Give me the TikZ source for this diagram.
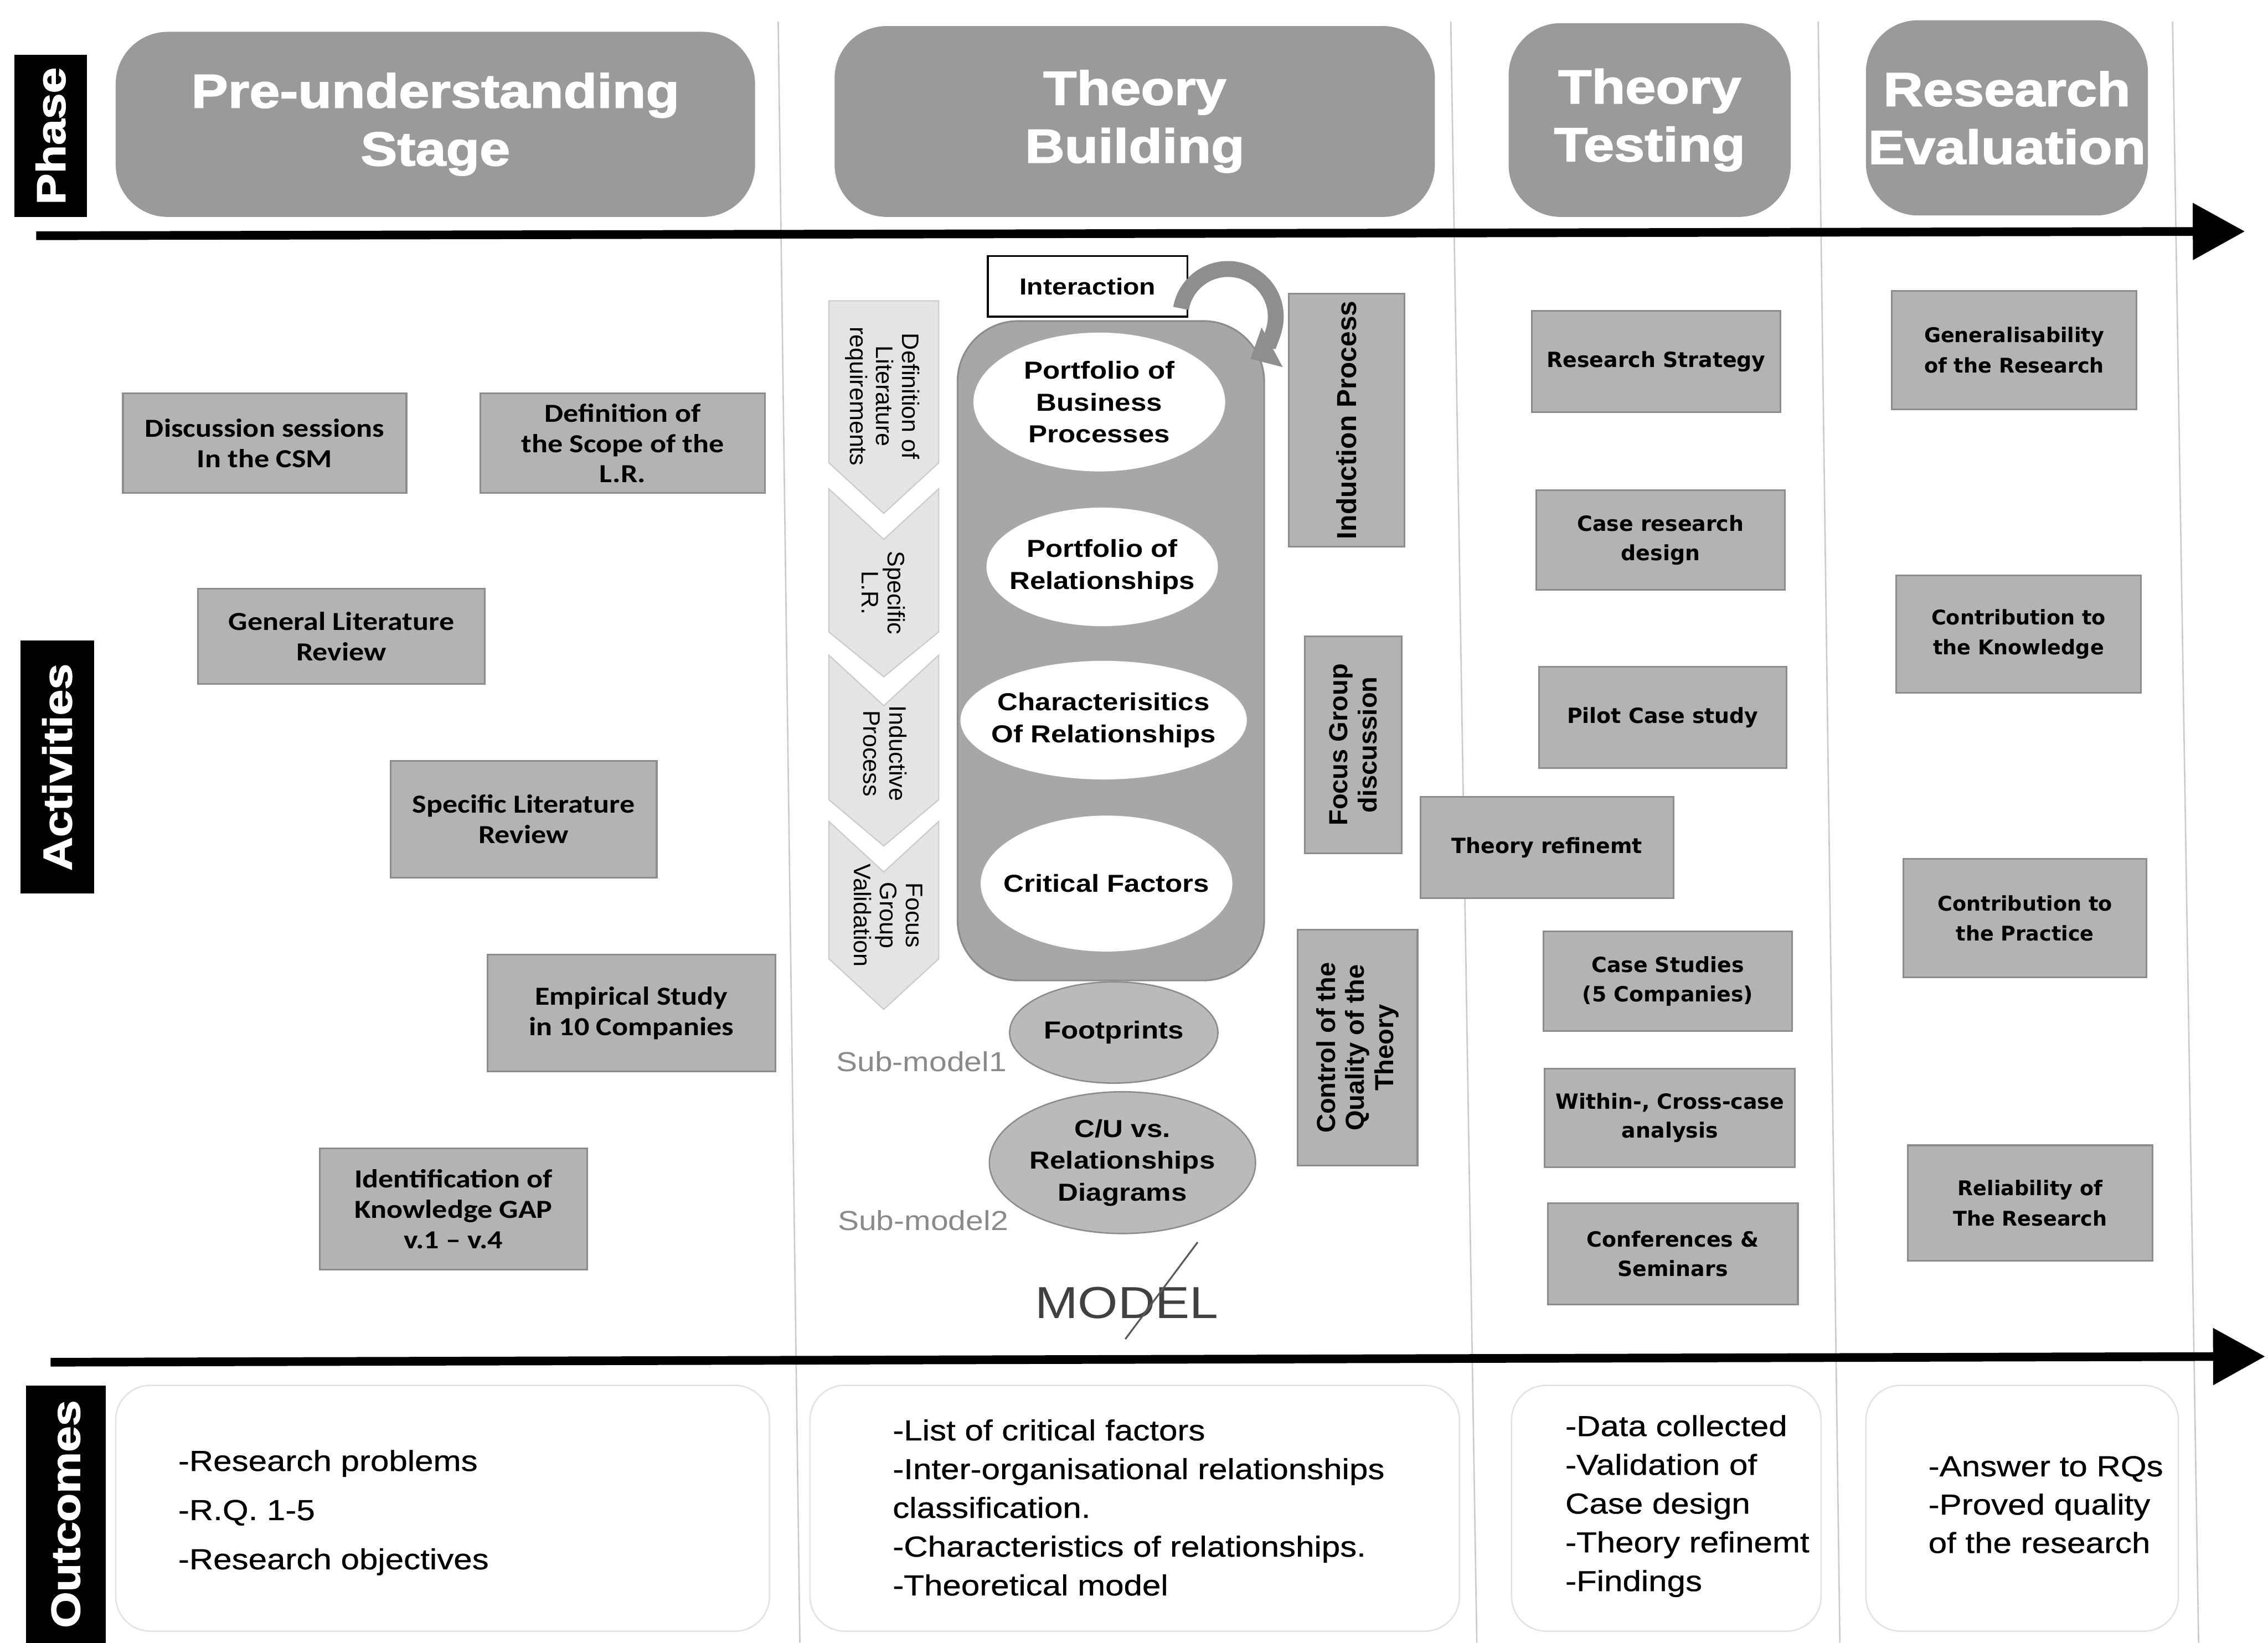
\documentclass[tikz,border=0pt]{standalone}
\usepackage{fontspec}
\setmainfont{Liberation Sans}
\newfontfamily\headfont[FakeStretch=1.15,FakeBold=2]{Liberation Sans}
\newfontfamily\widesans[FakeStretch=1.15]{Liberation Sans}
\newfontfamily\outfont[FakeStretch=1.15,FakeBold=0.6]{Liberation Sans}
\newfontfamily\calibfont[FakeStretch=1.15]{Carlito}
\newfontfamily\verdfont{DejaVu Sans}
\usetikzlibrary{shapes.geometric,arrows.meta}

\definecolor{hdgray}{HTML}{9A9A9A}
\definecolor{boxgray}{HTML}{B3B3B3}
\definecolor{boxedge}{HTML}{8C8C8C}
\definecolor{panelgray}{HTML}{A7A7A7}
\definecolor{chevfill}{HTML}{E4E4E4}
\definecolor{chevedge}{HTML}{CACACA}
\definecolor{sepgray}{HTML}{CBCBCB}
\definecolor{panelline}{HTML}{E3E3E3}
\definecolor{subgray}{HTML}{8A8A8A}
\definecolor{ovalgray}{HTML}{BABABA}
\definecolor{loopgray}{HTML}{8E8E8E}

\tikzset{
  sepline/.style={draw=sepgray, line width=1pt},
  outpanel/.style={draw=panelline, line width=1pt, rounded corners=24pt},
  timeline/.style={line width=6pt, -{Triangle[length=36pt,width=38pt]}},
  phasehead/.style={fill=hdgray, rounded corners=36pt, text=white, align=center,
    inner sep=0pt, font=\headfont\bfseries\fontsize{33}{40}\selectfont},
  sidelabel/.style={fill=black, text=white, rotate=90, inner sep=0pt,
    font=\headfont\bfseries\fontsize{28}{30}\selectfont},
  actbox/.style={fill=boxgray, draw=boxedge, line width=1.2pt, align=center,
    inner sep=0pt, font=\calibfont\bfseries\fontsize{18}{21}\selectfont},
  testbox/.style={actbox, font=\verdfont\bfseries\fontsize{14.5}{20}\selectfont},
  evalbox/.style={actbox, font=\verdfont\bfseries\fontsize{14}{21}\selectfont},
  upbox/.style={actbox, rotate=90, font=\bfseries\fontsize{18}{20}\selectfont},
  chev/.style={fill=chevfill, draw=chevedge, line width=0.8pt},
  chevtext/.style={rotate=-90, align=center, inner sep=0pt,
    font=\fontsize{16.5}{18}\selectfont},
  oval/.style={ellipse, inner sep=0pt},
  ovaltext/.style={align=center, inner sep=0pt,
    font=\widesans\bfseries\fontsize{17}{22}\selectfont},
  outtext/.style={align=left, anchor=west, inner sep=0pt},
}

\begin{document}
\begin{tikzpicture}[x=1pt,y=-1pt]
\useasboundingbox (0,0) rectangle (1568,1136);
\fill[white] (0,0) rectangle (1568,1136);

% column separators
\draw[sepline] (538,15) -- (553,1136);
\draw[sepline] (1003,15) -- (1021,1136);
\draw[sepline] (1257,15) -- (1272,1136);
\draw[sepline] (1502,15) -- (1520,1136);

% outcome panels
\draw[outpanel] (80,958) rectangle (532,1128);
\draw[outpanel] (560,958) rectangle (1009,1128);
\draw[outpanel] (1045,958) rectangle (1259,1128);
\draw[outpanel] (1290,958) rectangle (1506,1128);

% phase headers
\node[phasehead, minimum width=442, minimum height=128] (hpre) at (301,86) {Pre-understanding\\Stage};
\node[phasehead, minimum width=415, minimum height=132] (hbuild) at (784.5,84) {Theory\\Building};
\node[phasehead, minimum width=195, minimum height=134] (htest) at (1140.5,83) {Theory\\Testing};
\node[phasehead, minimum width=195, minimum height=135] (heval) at (1387.5,81.5) {Research\\Evaluation};

% side labels
\node[sidelabel, minimum width=112, minimum height=50] (lphase) at (35,94) {Phase};
\node[sidelabel, minimum width=175, minimum height=51] (lact) at (39.5,530.5) {Activities};
\node[sidelabel, minimum width=178, minimum height=55] (lout) at (45.5,1047) {Outcomes};

% time lines
\coordinate (ptl) at (25,163);
\coordinate (ptr) at (1552,160);
\draw[timeline] (ptl) -- (ptr);
\coordinate (otl) at (35,942);
\coordinate (otr) at (1566,938);
\draw[timeline] (otl) -- (otr);

% pre-understanding activities
\node[actbox, minimum width=196, minimum height=69] (disc) at (183,306.5) {Discussion sessions\\In the CSM};
\node[actbox, minimum width=197, minimum height=69] (scope) at (430.5,306.5) {Definition of\\the Scope of the\\L.R.};
\node[actbox, minimum width=198, minimum height=66] (genlit) at (236,440) {General Literature\\Review};
\node[actbox, minimum width=184, minimum height=81] (speclit) at (362,566.5) {Specific Literature\\Review};
\node[actbox, minimum width=199, minimum height=81] (empir) at (436.5,700.5) {Empirical Study\\in 10 Companies};
\node[actbox, minimum width=185, minimum height=84] (gap) at (313.5,836) {Identification of\\Knowledge GAP\\v.1 – v.4};

% chevron steps
\filldraw[chev] (573,208) -- (649,208) -- (649,320) -- (611,355) -- (573,320) -- cycle;
\filldraw[chev] (573,338) -- (611,373) -- (649,338) -- (649,437) -- (611,468) -- (573,437) -- cycle;
\filldraw[chev] (573,453) -- (611,488) -- (649,453) -- (649,553) -- (611,585) -- (573,553) -- cycle;
\filldraw[chev] (573,568) -- (611,603) -- (649,568) -- (649,663) -- (611,698) -- (573,663) -- cycle;
\node[chevtext] (cv1) at (610,274) {Definition of\\Literature\\requirements};
\node[chevtext] (cv2) at (611,410) {Specific\\L.R.};
\node[chevtext] (cv3) at (612,521) {Inductive\\Process};
\node[chevtext] (cv4) at (614,633) {Focus\\Group\\Validation};

% core model panel
\node[fill=panelgray, draw=boxedge, line width=1.2pt, rounded corners=42pt,
  minimum width=212, minimum height=456, inner sep=0pt] (core) at (768,450) {};
\node[draw=black, line width=1.3pt, fill=white, minimum width=138, minimum height=42,
  inner sep=0pt, font=\widesans\bfseries\fontsize{16}{18}\selectfont] (inter) at (752,198) {Interaction};
\coordinate (cyc) at (849,219);
\draw[draw=loopgray, line width=11pt, -{Triangle[length=17pt,width=30pt]}]
  (cyc) ++(-170:33) arc[start angle=-170, end angle=62, radius=33];

\node[oval, fill=white, minimum width=174, minimum height=96] (pbp) at (760,278) {};
\node[ovaltext] (pbpt) at (pbp) {Portfolio of\\Business\\Processes};
\node[oval, fill=white, minimum width=160, minimum height=82] (prel) at (762,392) {};
\node[ovaltext] (prelt) at (prel) {Portfolio of\\Relationships};
\node[oval, fill=white, minimum width=198, minimum height=82] (crel) at (763,498) {};
\node[ovaltext] (crelt) at (crel) {Characterisitics\\Of Relationships};
\node[oval, fill=white, minimum width=174, minimum height=94] (cfac) at (765,611) {};
\node[ovaltext] (cfact) at (cfac) {Critical Factors};

\node[oval, fill=ovalgray, draw=boxedge, line width=1pt, minimum width=144, minimum height=70] (foot) at (770,714) {};
\node[ovaltext] (foott) at (foot) {Footprints};
\node[oval, fill=ovalgray, draw=boxedge, line width=1pt, minimum width=184, minimum height=98] (cuvs) at (776,804) {};
\node[ovaltext] (cuvst) at (cuvs) {C/U vs.\\Relationships\\Diagrams};

\node[anchor=west, inner sep=0pt, text=subgray, font=\widesans\fontsize{19}{19}\selectfont] (sm1) at (578,734) {Sub-model1};
\node[anchor=west, inner sep=0pt, text=subgray, font=\widesans\fontsize{19}{19}\selectfont] (sm2) at (579,844) {Sub-model2};
\node[inner sep=0pt, text=black!75, font=\widesans\fontsize{31}{31}\selectfont] (model) at (779,901) {MODEL};
\coordinate (sla) at (828,859);
\coordinate (slb) at (778,926);
\draw[draw=black!65, line width=1.2pt] (sla) -- (slb);

% theory building side activities
\node[upbox, minimum width=175, minimum height=80, font=\bfseries\fontsize{19}{20}\selectfont] (induct) at (931,290.5) {Induction Process};
\node[upbox, minimum width=150, minimum height=67] (focus) at (935.5,515) {Focus Group\\discussion};
\node[upbox, minimum width=163, minimum height=83] (control) at (938.5,724.5) {Control of the\\Quality of the\\Theory};
\node[testbox, minimum width=175, minimum height=70] (refine) at (1069.5,586) {Theory refinemt};

% theory testing activities
\node[testbox, minimum width=172, minimum height=70] (strat) at (1145,250) {Research Strategy};
\node[testbox, minimum width=172, minimum height=69] (design) at (1148,373.5) {Case research\\design};
\node[testbox, minimum width=171, minimum height=70] (pilot) at (1149.5,496) {Pilot Case study};
\node[testbox, minimum width=172, minimum height=69] (cases) at (1153,678.5) {Case Studies\\(5 Companies)};
\node[testbox, minimum width=173, minimum height=68] (within) at (1154.5,773) {Within-, Cross-case\\analysis};
\node[testbox, minimum width=173, minimum height=70] (conf) at (1156.5,867) {Conferences \&\\Seminars};

% research evaluation activities
\node[evalbox, minimum width=169, minimum height=82] (gener) at (1392.5,242) {Generalisability\\of the Research};
\node[evalbox, minimum width=169, minimum height=81] (knowl) at (1395.5,438.5) {Contribution to\\the Knowledge};
\node[evalbox, minimum width=168, minimum height=82] (pract) at (1400,635) {Contribution to\\the Practice};
\node[evalbox, minimum width=169, minimum height=80] (reliab) at (1403.5,832) {Reliability of\\The Research};

% outcomes
\node[outtext, font=\outfont\fontsize{20}{34}\selectfont] (out1) at (123,1046) {-Research problems\\-R.Q. 1-5\\-Research objectives};
\node[outtext, font=\outfont\fontsize{20}{26.8}\selectfont] (out2) at (617,1042.5) {-List of critical factors\\-Inter-organisational relationships\\classification.\\-Characteristics of relationships.\\-Theoretical model};
\node[outtext, font=\outfont\fontsize{20}{26.8}\selectfont] (out3) at (1082,1041.5) {-Data collected\\-Validation of\\Case design\\-Theory refinemt\\-Findings};
\node[outtext, font=\outfont\fontsize{20}{26.5}\selectfont] (out4) at (1333,1040.5) {-Answer to RQs\\-Proved quality\\of the research};
\end{tikzpicture}
\end{document}
